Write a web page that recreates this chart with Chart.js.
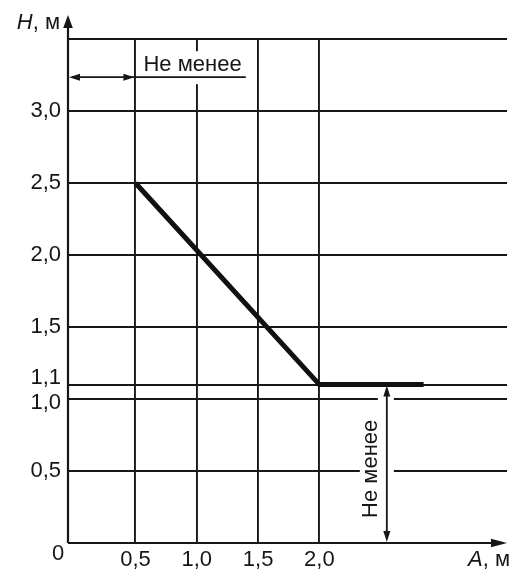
<!DOCTYPE html>
<html>
<head>
<meta charset="utf-8">
<script src="https://cdn.jsdelivr.net/npm/chart.js@4.4.1/dist/chart.umd.min.js"></script>
<style>
html,body{margin:0;padding:0;background:#fff;}
#c{display:block;}
</style>
</head>
<body>
<canvas id="c" width="511" height="571"></canvas>
<script>
// ---- data ----
const lineX = [0.5, 2.0, 2.85];
const lineY = [2.5, 1.1, 1.1];
const xTickValues = [0.5, 1.0, 1.5, 2.0];
const xTickLabels = ['0,5', '1,0', '1,5', '2,0'];
const yTickValues = [0.5, 1.0, 1.1, 1.5, 2.0, 2.5, 3.0, 3.5];
const yTickLabels = ['0,5', '1,0', '1,1', '1,5', '2,0', '2,5', '3,0', ''];
const xAxisTitle = 'A';
const yAxisTitle = 'H';
const unitText = ', м';
const noteText = 'Не менее';
const originLabel = '0';

const FONT = '"Liberation Sans", Arial, Helvetica, sans-serif';
const INK = '#161616';
const FS = 22;

const points = lineX.map((x, i) => ({x: x, y: lineY[i]}));

function arrowHead(ctx, tx, ty, dx, dy, len, half) {
  const bx = tx - dx * len, by = ty - dy * len;
  const px = -dy * half, py = dx * half;
  ctx.beginPath();
  ctx.moveTo(tx, ty);
  ctx.lineTo(bx + px, by + py);
  ctx.lineTo(bx - px, by - py);
  ctx.closePath();
  ctx.fill();
}

const decor = {
  id: 'decor',
  beforeDatasetsDraw(chart) {
    const ctx = chart.ctx;
    const xs = chart.scales.x, ys = chart.scales.y;
    ctx.save();
    ctx.fillStyle = '#fff';
    const topNoteY = ys.getPixelForValue(3.235);
    ctx.fillRect(xs.getPixelForValue(0.56), topNoteY - 26, 112, 33);
    const ax = xs.getPixelForValue(2.55);
    const y10 = ys.getPixelForValue(1.0), y05 = ys.getPixelForValue(0.5);
    ctx.fillRect(ax - 9, y10 - 3, 16, 6);
    ctx.fillRect(ax - 27, y05 - 3, 34, 6);
    ctx.restore();
  },
  afterDraw(chart) {
    const ctx = chart.ctx;
    const xs = chart.scales.x, ys = chart.scales.y;
    const ca = chart.chartArea;
    ctx.save();
    ctx.strokeStyle = INK;
    ctx.fillStyle = INK;
    // axes
    ctx.lineWidth = 2.2;
    ctx.beginPath();
    ctx.moveTo(ca.left, ca.bottom);
    ctx.lineTo(ca.left, 24);
    ctx.moveTo(ca.left, ca.bottom);
    ctx.lineTo(ca.right - 8, ca.bottom);
    ctx.stroke();
    arrowHead(ctx, ca.left, 15, 0, -1, 13, 4.8);
    arrowHead(ctx, ca.right, ca.bottom, 1, 0, 16, 4.2);

    // axis titles
    ctx.textBaseline = 'middle';
    ctx.font = FS + 'px ' + FONT;
    const unitW = ctx.measureText(unitText).width;
    ctx.textAlign = 'right';
    ctx.fillText(unitText, 60, 23);
    ctx.font = 'italic ' + FS + 'px ' + FONT;
    ctx.fillText(yAxisTitle, 60 - unitW, 23);

    ctx.textBaseline = 'alphabetic';
    ctx.font = FS + 'px ' + FONT;
    ctx.textAlign = 'right';
    ctx.fillText(unitText, 510, 566);
    ctx.font = 'italic ' + FS + 'px ' + FONT;
    ctx.fillText(xAxisTitle, 510 - unitW, 566);

    // origin label
    ctx.font = FS + 'px ' + FONT;
    ctx.textAlign = 'center';
    ctx.textBaseline = 'middle';
    ctx.fillText(originLabel, ca.left - 10, ca.bottom + 11);

    // top note
    const ny = ys.getPixelForValue(3.235);
    const x0 = xs.getPixelForValue(-0.05);
    const x05 = xs.getPixelForValue(0.5);
    const xEnd = xs.getPixelForValue(1.40);
    ctx.lineWidth = 1.8;
    ctx.beginPath();
    ctx.moveTo(x0 + 4, ny);
    ctx.lineTo(xEnd, ny);
    ctx.stroke();
    arrowHead(ctx, x0 + 1, ny, -1, 0, 11, 3.5);
    arrowHead(ctx, x05 - 1, ny, 1, 0, 11, 3.5);
    ctx.font = FS + 'px ' + FONT;
    ctx.textAlign = 'left';
    ctx.textBaseline = 'alphabetic';
    ctx.fillText(noteText, x05 + 8, ny - 6);

    // vertical note
    const ax = xs.getPixelForValue(2.55);
    const yTop = ys.getPixelForValue(1.1);
    const yBot = ys.getPixelForValue(0);
    ctx.beginPath();
    ctx.moveTo(ax, yTop + 6);
    ctx.lineTo(ax, yBot - 6);
    ctx.stroke();
    arrowHead(ctx, ax, yTop + 1, 0, -1, 11, 3.5);
    arrowHead(ctx, ax, yBot - 1, 0, 1, 11, 3.5);
    ctx.translate(ax - 16, (yTop + yBot) / 2 + 5);
    ctx.rotate(-Math.PI / 2);
    ctx.textAlign = 'center';
    ctx.textBaseline = 'middle';
    ctx.fillText(noteText, 0, 0);
    ctx.restore();
  }
};

new Chart(document.getElementById('c'), {
  type: 'line',
  data: {
    datasets: [{
      data: points,
      borderColor: '#111',
      borderWidth: 5,
      borderCapStyle: 'butt',
      borderJoinStyle: 'miter',
      pointRadius: 0,
      tension: 0,
      fill: false
    }]
  },
  options: {
    responsive: false,
    animation: false,
    devicePixelRatio: 1,
    layout: {padding: {top: 39, right: 4, left: 0, bottom: 0}},
    plugins: {legend: {display: false}, tooltip: {enabled: false}},
    scales: {
      x: {
        type: 'linear',
        min: -0.05,
        max: 3.53,
        afterBuildTicks: (s) => { s.ticks = xTickValues.map(v => ({value: v})); },
        afterFit: (s) => { s.height = 28; },
        ticks: {
          autoSkip: false,
          maxRotation: 0,
          padding: 4,
          color: INK,
          font: {family: FONT, size: FS},
          callback: (v, i) => xTickLabels[i]
        },
        grid: {color: INK, lineWidth: 1.9, drawTicks: false},
        border: {display: false}
      },
      y: {
        type: 'linear',
        min: 0,
        max: 3.5,
        afterBuildTicks: (s) => { s.ticks = yTickValues.map(v => ({value: v})); },
        afterFit: (s) => { s.width = 68; },
        ticks: {
          autoSkip: false,
          padding: 7,
          color: INK,
          font: (ctx) => {
            const v = ctx.tick ? ctx.tick.value : null;
            if (v === 1.1) return {family: FONT, size: FS, lineHeight: '13px'};
            if (v === 1.0) return {family: FONT, size: FS, lineHeight: '8px'};
            return {family: FONT, size: FS};
          },
          callback: (v, i) => {
            const t = yTickLabels[i];
            if (yTickValues[i] === 1.1) return [t, ''];
            if (yTickValues[i] === 1.0) return ['', t];
            return t;
          }
        },
        grid: {color: INK, lineWidth: 1.9, drawTicks: false},
        border: {display: false}
      }
    }
  },
  plugins: [decor]
});
</script>
</body>
</html>
